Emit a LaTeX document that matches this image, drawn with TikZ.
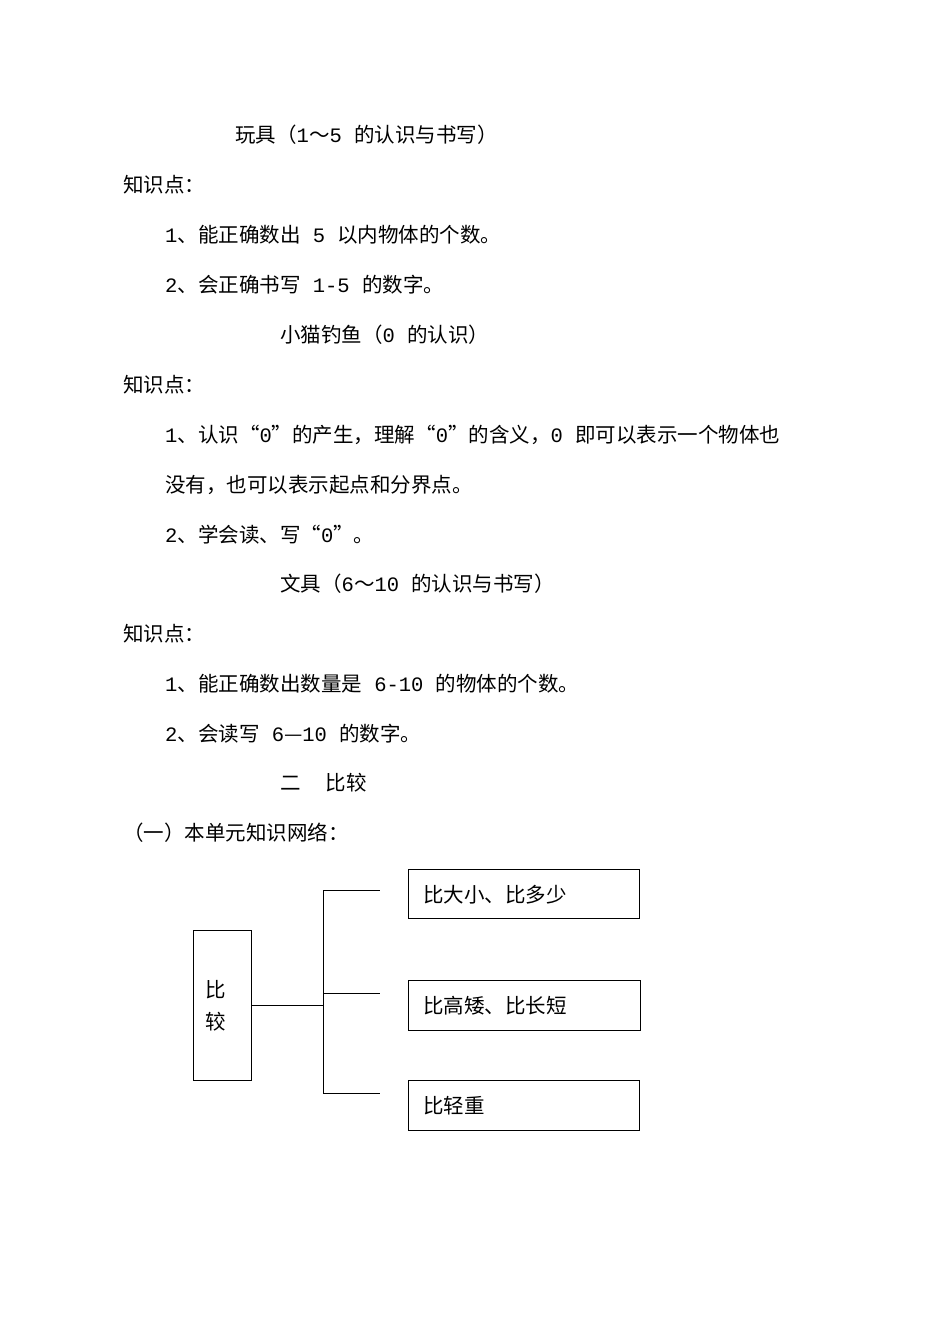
\documentclass[tikz,border=0pt]{standalone}
\usepackage{fontspec}
\setmainfont{Noto Sans CJK SC}
\newfontfamily\latf{Liberation Mono}
\newcommand{\lt}[1]{{\latf #1}}
\begin{document}
\begin{tikzpicture}[x=1pt,y=-1pt,
  txt/.style={anchor=west,inner sep=0pt,font=\fontsize{20.5}{20.5}\selectfont},
  bx/.style={draw,line width=0.8pt,anchor=north west,inner sep=0pt},
  ln/.style={line width=0.8pt}]
\useasboundingbox[fill=white] (0,0) rectangle (950,1344);
\node[txt] (t1) at (235,135) {玩具（\lt{1}～\lt{5 }的认识与书写）};
\node[txt] (k1) at (123,185) {知识点：};
\node[txt] (a1) at (165,235) {\lt{1}、能正确数出\lt{ 5 }以内物体的个数。};
\node[txt] (a2) at (165,285) {\lt{2}、会正确书写\lt{ 1-5 }的数字。};
\node[txt] (t2) at (280,335) {小猫钓鱼（\lt{0 }的认识）};
\node[txt] (k2) at (123,385) {知识点：};
\node[txt] (b1) at (165,435) {\lt{1}、认识“\lt{0}”的产生，理解“\lt{0}”的含义，\lt{0  }即可以表示一个物体也};
\node[txt] (b1b) at (165,485) {没有，也可以表示起点和分界点。};
\node[txt] (b2) at (165,535) {\lt{2}、学会读、写“\lt{0}”。};
\node[txt] (t3) at (280,584) {文具（\lt{6}～\lt{10 }的认识与书写）};
\node[txt] (k3) at (123,634) {知识点：};
\node[txt] (c1) at (165,684) {\lt{1}、能正确数出数量是\lt{ 6-10 }的物体的个数。};
\node[txt] (c2) at (165,734) {\lt{2}、会读写\lt{ 6}—\lt{10 }的数字。};
\node[txt] (t4) at (280,783) {二\hspace{25pt}比较};
\node[txt] (t5) at (123,833) {（一）本单元知识网络：};
% diagram
\node[bx,minimum width=58pt,minimum height=150pt] (L) at (193,930) {};
\node[txt] (L1) at (205,990) {比};
\node[txt] (L2) at (205,1022) {较};
\node[bx,minimum width=231pt,minimum height=49pt] (B1) at (408,869) {};
\node[txt] at (423,895) {比大小、比多少};
\node[bx,minimum width=232pt,minimum height=50pt] (B2) at (408,980) {};
\node[txt] at (423,1006) {比高矮、比长短};
\node[bx,minimum width=231pt,minimum height=50pt] (B3) at (408,1080) {};
\node[txt] at (423,1106) {比轻重};
\coordinate (J) at (323,1005);
\coordinate (T) at (323,890);
\coordinate (M) at (323,993);
\coordinate (D) at (323,1093);
\coordinate (e1) at (380,890);
\coordinate (e2) at (380,993);
\coordinate (e3) at (380,1093);
\draw[ln] (L.east |- J) -- (J);
\draw[ln] (T) -- (D);
\draw[ln] (T) -- (e1);
\draw[ln] (M) -- (e2);
\draw[ln] (D) -- (e3);
\end{tikzpicture}
\end{document}
